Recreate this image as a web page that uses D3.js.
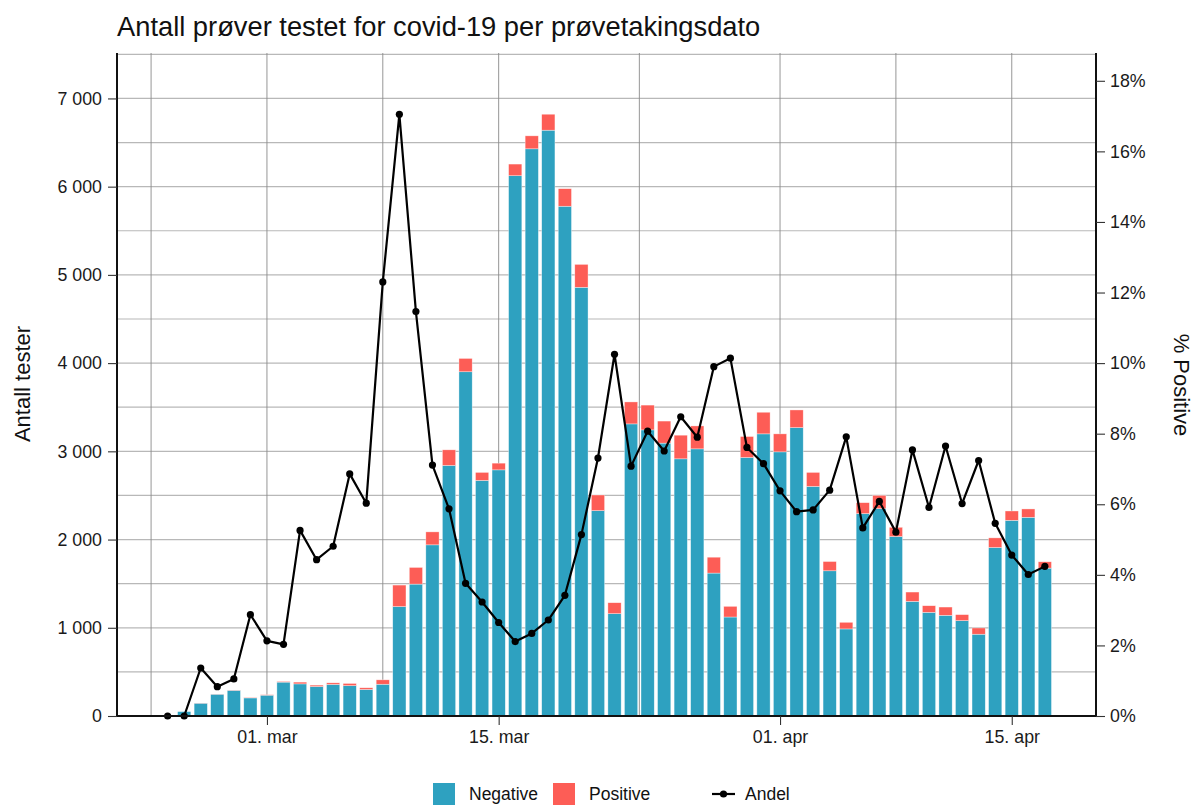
<!DOCTYPE html>
<html>
<head>
<meta charset="utf-8">
<script src="https://cdn.jsdelivr.net/npm/d3@7"></script>
<style>
  html, body { margin: 0; padding: 0; background: #fff; }
  svg { display: block; font-family: "Liberation Sans", Arial, sans-serif; }
</style>
</head>
<body>
<svg id="chart" width="1197" height="805"></svg>
<script>
// ---- data ----
const dates = [
  "2020-02-24","2020-02-25","2020-02-26","2020-02-27","2020-02-28","2020-02-29",
  "2020-03-01","2020-03-02","2020-03-03","2020-03-04","2020-03-05","2020-03-06","2020-03-07",
  "2020-03-08","2020-03-09","2020-03-10","2020-03-11","2020-03-12","2020-03-13","2020-03-14",
  "2020-03-15","2020-03-16","2020-03-17","2020-03-18","2020-03-19","2020-03-20","2020-03-21",
  "2020-03-22","2020-03-23","2020-03-24","2020-03-25","2020-03-26","2020-03-27","2020-03-28",
  "2020-03-29","2020-03-30","2020-03-31","2020-04-01","2020-04-02","2020-04-03","2020-04-04",
  "2020-04-05","2020-04-06","2020-04-07","2020-04-08","2020-04-09","2020-04-10","2020-04-11",
  "2020-04-12","2020-04-13","2020-04-14","2020-04-15","2020-04-16","2020-04-17"
];
const negative = [
  2, 50, 145, 247, 291, 205,
  236, 384, 364, 334, 358, 344, 301,
  360, 1240, 1495, 1940, 2840, 3902, 2670,
  2790, 6124, 6429, 6640, 5778, 4859, 2328,
  1160, 3311, 3243, 3093, 2915, 3028, 1620,
  1122, 2930, 3198, 2994, 3269, 2602, 1646,
  987, 2294, 2350, 2034, 1299, 1175, 1141,
  1081, 927, 1910, 2218, 2252, 1676
];
const positive = [
  0, 0, 2, 2, 3, 6,
  5, 8, 20, 16, 18, 25, 19,
  50, 244, 189, 147, 177, 151, 91,
  76, 132, 147, 181, 199, 260, 177,
  124, 249, 281, 250, 268, 260, 180,
  121, 238, 245, 204, 200, 159, 105,
  75, 124, 151, 105, 106, 75, 94,
  68, 71, 109, 106, 95, 72
];
const andel = [
  0, 0, 1.36, 0.83, 1.05, 2.87,
  2.13, 2.03, 5.26, 4.43, 4.81, 6.86, 6.03,
  12.30, 17.05, 11.46, 7.11, 5.87, 3.76, 3.23,
  2.65, 2.11, 2.34, 2.72, 3.42, 5.14, 7.31,
  10.25, 7.08, 8.07, 7.51, 8.48, 7.90, 9.90,
  10.14, 7.61, 7.15, 6.38, 5.79, 5.84, 6.40,
  7.91, 5.33, 6.08, 5.21, 7.54, 5.91, 7.65,
  6.02, 7.24, 5.46, 4.56, 4.01, 4.24
];
const xTickDates = ["2020-03-01","2020-03-15","2020-04-01","2020-04-15"];
const xTickLabels = ["01. mar","15. mar","01. apr","15. apr"];
const xMinorGrid = ["2020-02-23","2020-03-08","2020-03-23T12:00","2020-04-08"];
const yTicks = [0,1000,2000,3000,4000,5000,6000,7000];
const yGrid = [500,1000,1500,2000,2500,3000,3500,4000,4500,5000,5500,6000,6500,7000,7500];
const pctTicks = [0,2,4,6,8,10,12,14,16,18];
const seriesNames = ["Negative","Positive","Andel"];
const colors = { Negative: "#2EA1C0", Positive: "#FD5D56" };
const title = "Antall prøver testet for covid-19 per prøvetakingsdato";
const yLabel = "Antall tester";
const yLabelRight = "% Positive";
const testsPerPercent = 400;

// ---- layout ----
const svg = d3.select("#chart");
const L = 117, R = 1096, T = 53, B = 716;
const parse = s => new Date(s.length > 10 ? s + "Z" : s + "T00:00Z");

const x = d3.scaleUtc()
  .domain([new Date(Date.UTC(2020,1,20,22,34)), new Date(Date.UTC(2020,3,20,2,10))])
  .range([L, R]);
const y = d3.scaleLinear().domain([0, 7515]).range([B, T]);
const yR = d3.scaleLinear().domain([0, 7515 / testsPerPercent]).range([B, T]);
const dayW = x(parse("2020-03-02")) - x(parse("2020-03-01"));
const barW = dayW * 0.8;

const rows = dates.map((d, i) => ({ date: parse(d), neg: negative[i], pos: positive[i], pct: andel[i] }));

// gridlines
const grid = svg.append("g");
grid.selectAll("line.h").data(yGrid).join("line")
  .attr("x1", L).attr("x2", R)
  .attr("y1", d => y(d)).attr("y2", d => y(d))
  .attr("stroke", "#b8b8b8").attr("stroke-width", 1.2);
grid.selectAll("line.v").data(xTickDates.concat(xMinorGrid)).join("line")
  .attr("x1", d => x(parse(d))).attr("x2", d => x(parse(d)))
  .attr("y1", T).attr("y2", B)
  .attr("stroke", "#8a8a8a").attr("stroke-width", 0.9);

// bars (stacked)
const stack = d3.stack().keys(["neg","pos"])(rows);
const barG = svg.append("g");
stack.forEach((layer, li) => {
  barG.append("g").selectAll("rect").data(layer).join("rect")
    .attr("x", d => x(d.data.date) - barW / 2)
    .attr("width", barW)
    .attr("y", d => y(d[1]))
    .attr("height", d => Math.max(0, y(d[0]) - y(d[1])))
    .attr("fill", li === 0 ? colors.Negative : colors.Positive)
    .attr("stroke", "#ffffff").attr("stroke-opacity", 0.6).attr("stroke-width", 0.6);
});

// line
const line = d3.line().x(d => x(d.date)).y(d => yR(d.pct));
svg.append("path").datum(rows).attr("d", line)
  .attr("fill", "none").attr("stroke", "#000").attr("stroke-width", 2.2)
  .attr("stroke-linejoin", "round");
svg.append("g").selectAll("circle").data(rows).join("circle")
  .attr("cx", d => x(d.date)).attr("cy", d => yR(d.pct)).attr("r", 3.6).attr("fill", "#000");

// axes
const nf = d3.formatLocale({ decimal: ",", thousands: "\u00a0", grouping: [3], currency: ["", ""] }).format(",");
const axL = svg.append("g").attr("transform", `translate(${L},0)`)
  .call(d3.axisLeft(y).tickValues(yTicks).tickFormat(nf).tickSize(9).tickPadding(6));
const axR = svg.append("g").attr("transform", `translate(${R},0)`)
  .call(d3.axisRight(yR).tickValues(pctTicks).tickFormat(d => d + "%").tickSize(9).tickPadding(5));
const axB = svg.append("g").attr("transform", `translate(0,${B})`)
  .call(d3.axisBottom(x).tickValues(xTickDates.map(parse)).tickFormat((d, i) => xTickLabels[i]).tickSize(9).tickPadding(5));
[axL, axR, axB].forEach(a => {
  a.select(".domain").attr("stroke", "#111").attr("stroke-width", 2);
  a.selectAll(".tick line").attr("stroke", "#333").attr("stroke-width", 1.1);
  a.selectAll(".tick text").attr("fill", "#1a1a1a").attr("font-size", 17.8)
    .attr("font-family", "Liberation Sans, Arial, sans-serif");
});
axB.select(".domain").attr("d", `M${L},0H${R}`);
axL.select(".domain").attr("d", `M0,${T}V${B}`);
axR.select(".domain").attr("d", `M0,${T}V${B}`);

// title and axis labels
svg.append("text").attr("x", L).attr("y", 36).attr("font-size", 27.3).attr("fill", "#111").text(title);
svg.append("text").attr("transform", `translate(30,384) rotate(-90)`).attr("text-anchor", "middle")
  .attr("font-size", 22).attr("fill", "#111").text(yLabel);
svg.append("text").attr("transform", `translate(1174,385) rotate(90)`).attr("text-anchor", "middle")
  .attr("font-size", 22).attr("fill", "#111").text(yLabelRight);

// legend
const lg = svg.append("g");
const legendItems = [
  { name: seriesNames[0], type: "rect", sx: 433, tx: 469 },
  { name: seriesNames[1], type: "rect", sx: 553, tx: 589 },
  { name: seriesNames[2], type: "line", sx: 712, tx: 745 }
];
legendItems.forEach(it => {
  if (it.type === "rect") {
    lg.append("rect").attr("x", it.sx).attr("y", 783).attr("width", 22).attr("height", 22)
      .attr("fill", colors[it.name]);
  } else {
    lg.append("line").attr("x1", it.sx).attr("x2", it.sx + 23).attr("y1", 794).attr("y2", 794)
      .attr("stroke", "#000").attr("stroke-width", 2.2);
    lg.append("circle").attr("cx", it.sx + 11.5).attr("cy", 794).attr("r", 3.6).attr("fill", "#000");
  }
  lg.append("text").attr("x", it.tx).attr("y", 799.5).attr("font-size", 17.5).attr("fill", "#111").text(it.name);
});
</script>
</body>
</html>
